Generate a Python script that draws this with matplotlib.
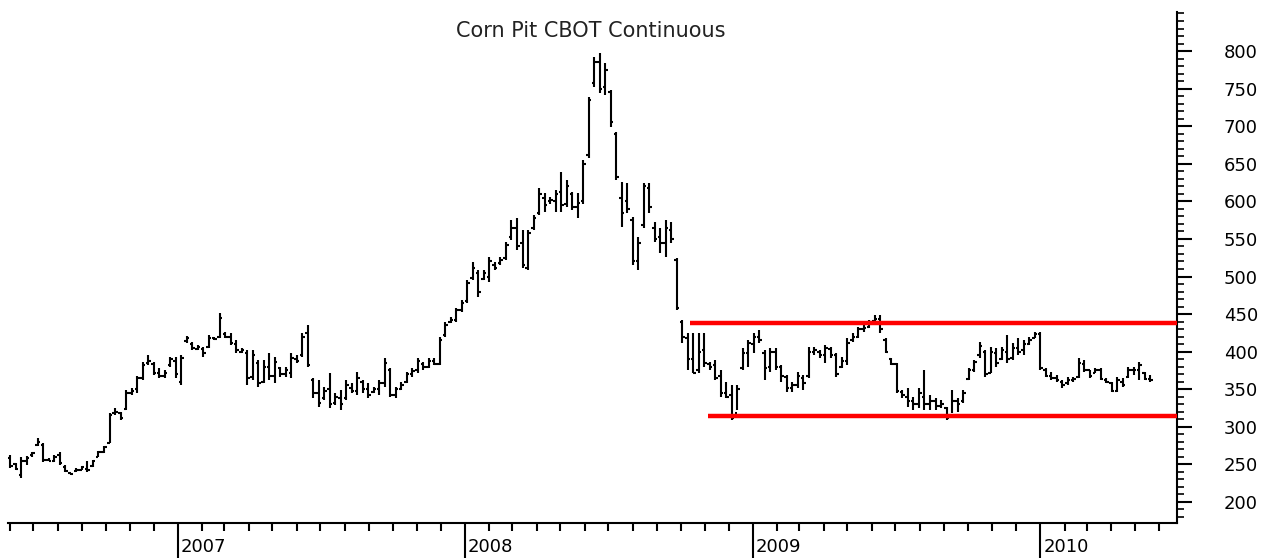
# Weekly OHLC bars: Corn Pit CBOT Continuous, mid 2006 - mid 2010
import matplotlib
matplotlib.use("Agg")
import matplotlib.pyplot as plt
import matplotlib.dates as mdates
from matplotlib.ticker import MultipleLocator
import matplotlib.transforms as mtransforms
import pandas as pd

first_week = "2006-06-02"

highs = [262, 252, 260, 261, 267, 285, 278, 258, 262, 266, 249, 238, 245, 248, 255, 256, 268, 275, 318, 325,
         320, 349, 352, 368, 386, 395, 386, 378, 375, 393, 393, 395, 421, 413, 409, 406, 422, 420, 451, 426,
         425, 416, 405, 402, 402, 389, 389, 398, 393, 380, 380, 398, 395, 425, 435, 365, 362, 353, 372, 345,
         349, 362, 358, 373, 362, 358, 353, 362, 392, 378, 353, 360, 373, 378, 392, 386, 392, 392, 420, 440,
         446, 458, 469, 495, 519, 509, 509, 526, 519, 526, 546, 575, 578, 562, 562, 582, 618, 611, 606, 615,
         639, 628, 612, 611, 655, 739, 792, 797, 784, 748, 692, 626, 624, 579, 553, 624, 624, 573, 565, 575,
         573, 525, 442, 425, 425, 425, 425, 386, 389, 376, 360, 356, 356, 405, 416, 425, 429, 402, 405, 405,
         382, 369, 360, 373, 369, 406, 406, 402, 409, 406, 398, 393, 418, 425, 433, 436, 442, 449, 449, 418,
         392, 385, 349, 352, 340, 352, 376, 342, 338, 336, 326, 349, 338, 349, 378, 389, 413, 402, 406, 405,
         406, 422, 411, 418, 416, 420, 426, 426, 378, 373, 369, 362, 366, 366, 392, 389, 376, 378, 378, 365,
         360, 366, 365, 380, 380, 386, 373, 369]

lows = [245, 242, 232, 249, 260, 274, 253, 254, 253, 249, 240, 236, 240, 242, 240, 247, 260, 265, 278, 316,
        309, 322, 342, 345, 362, 382, 369, 365, 365, 380, 365, 356, 412, 402, 402, 393, 405, 416, 418, 418,
        409, 398, 398, 356, 362, 353, 358, 362, 358, 366, 366, 365, 385, 393, 380, 338, 326, 336, 325, 329,
        322, 336, 345, 342, 345, 338, 345, 342, 353, 340, 338, 349, 358, 366, 372, 376, 378, 382, 382, 420,
        438, 439, 453, 465, 495, 473, 495, 493, 509, 515, 522, 549, 535, 511, 509, 562, 582, 586, 597, 586,
        586, 592, 588, 578, 597, 658, 752, 744, 741, 699, 628, 566, 584, 515, 509, 565, 584, 546, 531, 526,
        545, 455, 412, 376, 371, 372, 380, 376, 362, 340, 338, 309, 322, 376, 380, 398, 412, 362, 373, 376,
        360, 346, 346, 352, 349, 365, 396, 392, 385, 392, 366, 378, 382, 413, 418, 426, 431, 439, 425, 398,
        382, 345, 338, 326, 322, 325, 322, 322, 322, 325, 309, 318, 320, 332, 362, 373, 392, 366, 372, 380,
        389, 385, 389, 396, 396, 409, 418, 376, 366, 362, 360, 352, 356, 360, 365, 373, 365, 372, 362, 358,
        346, 346, 353, 365, 369, 362, 362, 360]

opens = [258, 250, 236, 255, 262, 276, 276, 256, 255, 262, 247, 238, 241, 243, 244, 248, 260, 267, 278, 318,
         318, 324, 345, 350, 365, 385, 384, 372, 368, 382, 388, 360, 414, 410, 404, 404, 406, 418, 420, 424,
         420, 410, 400, 398, 366, 385, 360, 380, 368, 378, 370, 372, 390, 395, 425, 362, 345, 338, 350, 332,
         338, 338, 352, 348, 360, 350, 346, 350, 358, 376, 342, 350, 360, 370, 375, 384, 380, 388, 384, 422,
         440, 442, 455, 467, 498, 505, 497, 500, 515, 518, 524, 552, 565, 545, 512, 565, 584, 605, 600, 600,
         612, 596, 610, 592, 600, 662, 758, 785, 752, 745, 690, 605, 600, 575, 520, 568, 618, 565, 552, 545,
         562, 522, 440, 418, 390, 375, 402, 384, 382, 368, 345, 342, 318, 378, 398, 410, 420, 398, 380, 400,
         380, 366, 352, 355, 365, 368, 400, 400, 395, 404, 395, 380, 388, 415, 420, 430, 433, 441, 444, 415,
         390, 384, 346, 340, 334, 330, 340, 330, 334, 328, 325, 315, 335, 334, 364, 375, 395, 400, 372, 398,
         390, 400, 392, 405, 402, 410, 418, 424, 375, 368, 365, 360, 358, 362, 366, 384, 375, 372, 376, 362,
         358, 348, 360, 366, 376, 375, 372, 364]

closes = [248, 244, 255, 258, 265, 280, 256, 255, 260, 252, 241, 237, 243, 246, 242, 254, 266, 273, 316, 320,
          312, 345, 348, 365, 382, 388, 372, 368, 372, 390, 370, 392, 418, 405, 406, 398, 418, 417, 445, 420,
          412, 402, 402, 365, 395, 358, 380, 368, 386, 370, 375, 392, 388, 420, 382, 345, 332, 348, 330, 340,
          330, 355, 348, 365, 350, 342, 350, 358, 385, 342, 350, 356, 370, 374, 388, 380, 388, 384, 415, 436,
          442, 455, 465, 492, 512, 480, 505, 520, 512, 522, 542, 565, 540, 515, 558, 578, 610, 595, 602, 610,
          595, 620, 592, 598, 650, 735, 785, 750, 775, 705, 632, 585, 590, 520, 545, 620, 592, 550, 545, 565,
          550, 458, 420, 390, 372, 400, 385, 380, 365, 345, 340, 312, 350, 398, 412, 420, 415, 378, 400, 380,
          368, 352, 355, 368, 358, 400, 402, 395, 405, 396, 370, 388, 412, 420, 430, 432, 440, 444, 430, 400,
          384, 348, 342, 335, 330, 345, 330, 335, 328, 330, 312, 335, 330, 345, 375, 386, 408, 370, 400, 385,
          402, 390, 405, 400, 410, 416, 424, 378, 368, 365, 362, 356, 362, 364, 385, 376, 368, 376, 364, 360,
          348, 362, 356, 376, 375, 382, 364, 362]

# horizontal channel lines
resistance = 438
support = 314
resistance_from = "2008-10-13"
support_from = "2008-11-05"

dates = pd.date_range(first_week, periods=len(highs), freq="W-FRI")
x = mdates.date2num(dates.to_pydatetime())
tick = 3.2  # days

fig = plt.figure(figsize=(12.73, 5.58), dpi=100)
ax = fig.add_axes([0.0063, 0.0627, 0.9183, 0.9158])

ax.vlines(x, lows, highs, color="black", lw=1.5)
ax.hlines(opens, x - tick, x, color="black", lw=1.5)
ax.hlines(closes, x, x + tick, color="black", lw=1.5)

x_left = mdates.date2num(pd.Timestamp("2006-05-30"))
x_right = mdates.date2num(pd.Timestamp("2010-06-24"))
ax.hlines(resistance, mdates.date2num(pd.Timestamp(resistance_from)), x_right,
          color="#ff0000", lw=3.2, zorder=3)
ax.hlines(support, mdates.date2num(pd.Timestamp(support_from)), x_right,
          color="#ff0000", lw=3.2, zorder=3)

ax.set_xlim(x_left, x_right)
ax.set_ylim(172, 852)

for side in ["left", "top"]:
    ax.spines[side].set_visible(False)
for side in ["bottom", "right"]:
    ax.spines[side].set_linewidth(1.5)

# y axis on the right
ax.yaxis.tick_right()
ax.yaxis.set_major_locator(MultipleLocator(50))
ax.yaxis.set_minor_locator(MultipleLocator(10))
ax.tick_params(axis="y", which="major", direction="out", length=10.8, width=1.5,
               pad=23, labelsize=13)
ax.tick_params(axis="y", which="minor", direction="out", length=5, width=1.2)
ax.set_yticks([t for t in range(200, 801, 50)])
ax.yaxis.set_minor_locator(MultipleLocator(10))

# x axis: years as long ticks, months as short ticks
ax.xaxis.set_major_locator(mdates.YearLocator())
ax.xaxis.set_major_formatter(mdates.DateFormatter("%Y"))
ax.xaxis.set_minor_locator(mdates.MonthLocator())
ax.tick_params(axis="x", which="major", direction="out", length=25, width=1.5,
               pad=-14.5, labelsize=13)
ax.tick_params(axis="x", which="minor", direction="out", length=5.5, width=1.5)
shift = mtransforms.ScaledTranslation(3 / 100, 0, fig.dpi_scale_trans)
for lbl in ax.get_xticklabels():
    lbl.set_horizontalalignment("left")
    lbl.set_transform(lbl.get_transform() + shift)

fig.text(591 / 1273, 1 - 31 / 558, "Corn Pit CBOT Continuous", ha="center", va="center",
         fontsize=15, color="#222222")

fig.savefig("out.png", dpi=100)
